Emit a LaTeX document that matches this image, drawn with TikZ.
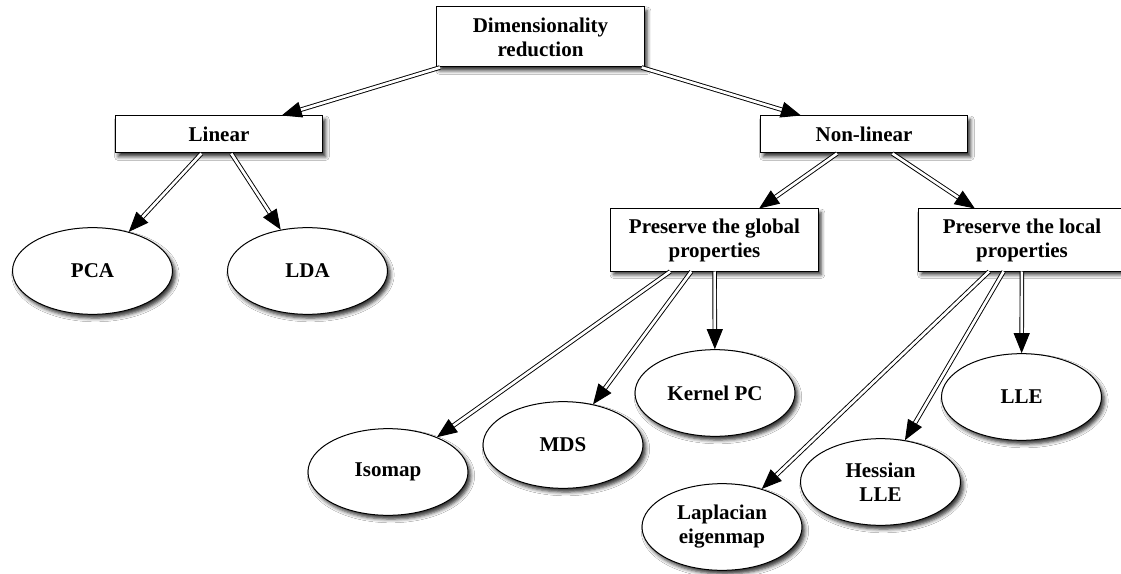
\documentclass[tikz,border=0pt]{standalone}
\usepackage{fontspec}
\setmainfont{Liberation Serif}
\usetikzlibrary{shapes.geometric,arrows.meta,shadows.blur}
\begin{document}
\begin{tikzpicture}[x=0.75pt,y=-0.75pt,
  every node/.style={font=\fontsize{15.75}{18}\selectfont\bfseries, align=center},
  softshadow/.style={blur shadow={shadow xshift=2.2pt, shadow yshift=-2.8pt,
      shadow blur radius=2.8pt, shadow opacity=80}},
  catbox/.style={draw, line width=0.75pt, fill=white, rectangle, inner sep=0pt,
      minimum width=155.5pt, softshadow},
  method/.style={draw, ellipse, line width=0.75pt, fill=white, inner sep=0pt,
      minimum width=120pt, minimum height=65pt, softshadow},
  conn/.style={draw=black, double=white, double distance=2pt, line width=0.7pt,
      -{Triangle[length=15pt,width=12pt]}}]
\clip (0,0) rectangle (1121,574);
\fill[white] (0,0) rectangle (1121,574);

% category boxes
\node[catbox, minimum height=45pt]   (dim)    at (540.5,37)  {Dimensionality\\reduction};
\node[catbox, minimum height=27.75pt] (lin)   at (219,134.5) {Linear};
\node[catbox, minimum height=27.75pt] (nonlin) at (864,134.5) {Non-linear};
\node[catbox, minimum height=46.5pt] (glob)   at (714.5,240) {Preserve the global\\properties};
\node[catbox, minimum height=46.5pt] (loc)    at (1022,240)  {Preserve the local\\properties};

% methods
\node[method] (pca)  at (92.5,271) {PCA};
\node[method] (lda)  at (307.5,271) {LDA};
\node[method] (iso)  at (388,472)  {Isomap};
\node[method] (mds)  at (563,445)  {MDS};
\node[method] (kpc)  at (715,393)  {Kernel PC};
\node[method] (lap)  at (722,527)  {Laplacian\\eigenmap};
\node[method] (hlle) at (880.5,482) {Hessian\\LLE};
\node[method] (lle)  at (1021.5,397) {LLE};

% connectors
\draw[conn] (dim) -- (lin);
\draw[conn] (dim) -- (nonlin);
\draw[conn] (lin) -- (pca);
\draw[conn] (lin) -- (lda);
\draw[conn] (nonlin) -- (glob);
\draw[conn] (nonlin) -- (loc);
\draw[conn] (glob) -- (iso);
\draw[conn] (glob) -- (mds);
\draw[conn] (glob) -- (kpc);
\draw[conn] (loc) -- (lap);
\draw[conn] (loc) -- (hlle);
\draw[conn] (loc) -- (lle);
\end{tikzpicture}
\end{document}
